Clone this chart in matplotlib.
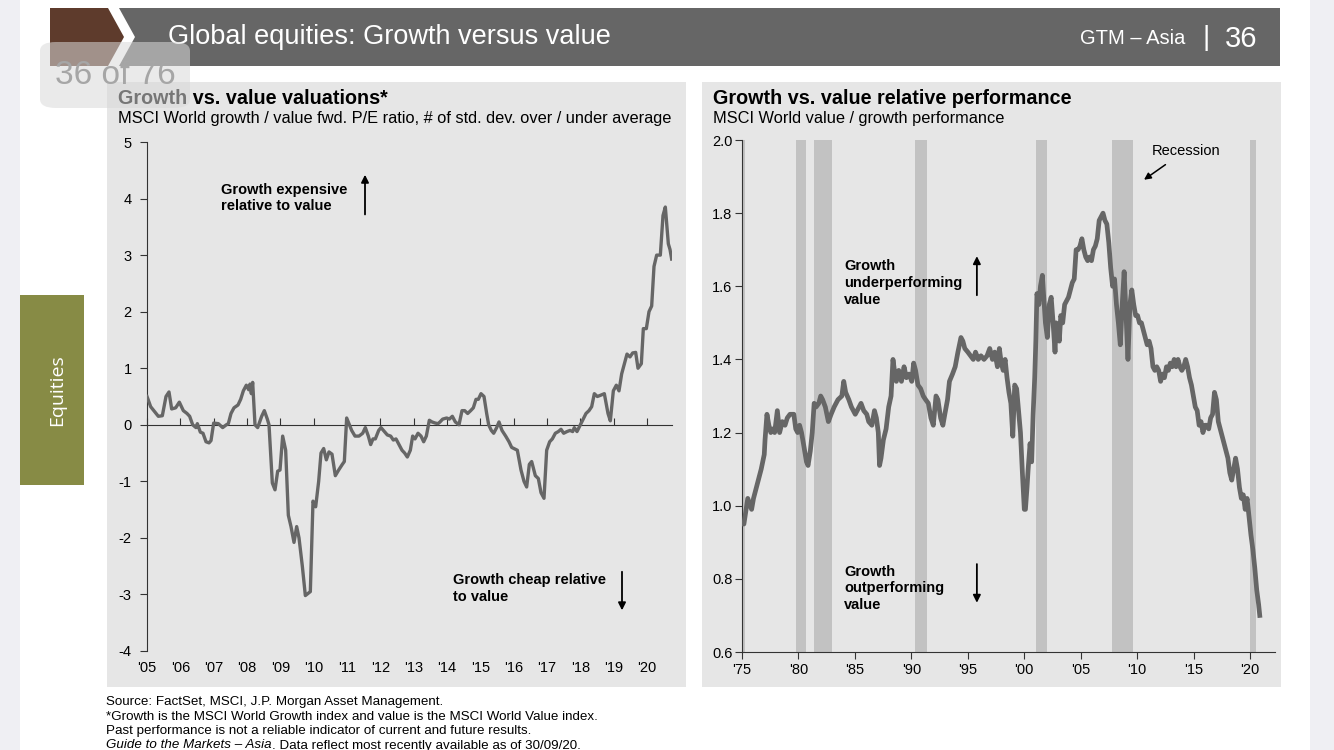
import matplotlib
matplotlib.use("Agg")
import matplotlib.pyplot as plt
from matplotlib.patches import Rectangle, Polygon, FancyBboxPatch

plt.rcParams['font.family'] = ['Liberation Sans', 'DejaVu Sans']

# growth / value fwd P/E, std. dev. from average (left chart)
val_years = [2005.00, 2005.11, 2005.34, 2005.46, 2005.57, 2005.66, 2005.74, 2005.86, 2005.97,
             2006.09, 2006.20, 2006.28, 2006.37, 2006.47, 2006.51, 2006.60, 2006.68, 2006.77, 2006.86, 2006.92,
             2007.00, 2007.14, 2007.27, 2007.38, 2007.44, 2007.52, 2007.61, 2007.73, 2007.81, 2007.89, 2007.98,
             2008.05, 2008.09, 2008.13, 2008.17, 2008.24, 2008.32, 2008.44, 2008.52, 2008.61, 2008.66, 2008.76, 2008.84, 2008.92, 2008.99,
             2009.07, 2009.16, 2009.24, 2009.32, 2009.41, 2009.49, 2009.56, 2009.66, 2009.75, 2009.90, 2009.98,
             2010.06, 2010.15, 2010.22, 2010.30, 2010.38, 2010.46, 2010.55, 2010.65, 2010.75, 2010.86, 2010.92, 2010.99,
             2011.07, 2011.14, 2011.24, 2011.36, 2011.47, 2011.55, 2011.64, 2011.71, 2011.78, 2011.85, 2011.95,
             2012.02, 2012.12, 2012.21, 2012.31, 2012.39, 2012.47, 2012.56, 2012.65, 2012.73, 2012.81, 2012.90, 2012.97,
             2013.04, 2013.13, 2013.22, 2013.30, 2013.38, 2013.47, 2013.55, 2013.65, 2013.73, 2013.79, 2013.87, 2013.99,
             2014.07, 2014.16, 2014.25, 2014.36, 2014.45, 2014.53, 2014.62, 2014.71, 2014.79, 2014.87, 2014.94,
             2015.02, 2015.11, 2015.19, 2015.25, 2015.33, 2015.40, 2015.49, 2015.56, 2015.65, 2015.76, 2015.86, 2015.94,
             2016.11, 2016.22, 2016.31, 2016.39, 2016.47, 2016.54, 2016.65, 2016.74, 2016.82, 2016.91, 2016.99,
             2017.08, 2017.16, 2017.25, 2017.34, 2017.42, 2017.50, 2017.60, 2017.69, 2017.77, 2017.82, 2017.90,
             2018.00, 2018.08, 2018.17, 2018.26, 2018.34, 2018.42, 2018.51, 2018.60, 2018.72, 2018.83, 2018.90, 2018.99,
             2019.08, 2019.16, 2019.24, 2019.31, 2019.40, 2019.49, 2019.57, 2019.66, 2019.73, 2019.83, 2019.89, 2019.98,
             2020.06, 2020.14, 2020.21, 2020.29, 2020.40, 2020.48, 2020.55, 2020.64, 2020.69, 2020.74]
val_sd = [0.50, 0.32, 0.15, 0.16, 0.50, 0.58, 0.28, 0.30, 0.40,
          0.25, 0.20, 0.15, 0.00, -0.05, 0.02, -0.13, -0.15, -0.30, -0.32, -0.28,
          0.03, 0.02, -0.05, 0.00, 0.02, 0.20, 0.30, 0.35, 0.45, 0.60, 0.70,
          0.62, 0.72, 0.55, 0.75, 0.00, -0.05, 0.15, 0.25, 0.10, 0.00, -1.03, -1.15, -0.82, -0.80,
          -0.20, -0.45, -1.60, -1.80, -2.08, -1.80, -2.00, -2.50, -3.02, -2.95, -1.35,
          -1.45, -1.00, -0.50, -0.42, -0.62, -0.48, -0.52, -0.90, -0.80, -0.70, -0.65, 0.12,
          0.00, -0.10, -0.20, -0.20, -0.15, -0.05, -0.20, -0.35, -0.25, -0.25, -0.10,
          -0.05, -0.12, -0.18, -0.20, -0.27, -0.25, -0.35, -0.45, -0.50, -0.57, -0.45, -0.20,
          -0.25, -0.15, -0.20, -0.30, -0.20, 0.08, 0.05, 0.03, 0.02, 0.05, 0.10, 0.12,
          0.10, 0.15, 0.05, 0.00, 0.25, 0.25, 0.20, 0.25, 0.30, 0.45, 0.45,
          0.55, 0.50, 0.20, 0.00, -0.10, -0.15, -0.05, 0.05, -0.10, -0.20, -0.30, -0.40,
          -0.45, -0.80, -1.00, -1.10, -0.70, -0.65, -0.90, -0.95, -1.20, -1.30, -0.45,
          -0.30, -0.25, -0.15, -0.12, -0.08, -0.15, -0.12, -0.10, -0.12, -0.05, -0.12,
          0.00, 0.10, 0.20, 0.25, 0.32, 0.55, 0.50, 0.52, 0.55, 0.20, 0.07, 0.60,
          0.70, 0.60, 0.90, 1.05, 1.25, 1.20, 1.27, 1.28, 1.00, 1.08, 1.70, 1.70,
          2.00, 2.10, 2.80, 3.00, 3.00, 3.70, 3.85, 3.20, 3.10, 2.93]

# value / growth relative performance (right chart)
perf_years = [1975.00, 1975.17, 1975.51, 1975.85, 1976.02, 1976.36, 1976.70, 1976.97, 1977.04, 1977.21,
              1977.38, 1977.55, 1977.72, 1977.89, 1978.13, 1978.33, 1978.57, 1978.81, 1979.01, 1979.25,
              1979.59, 1979.76, 1979.93, 1980.10, 1980.27, 1980.44, 1980.71, 1980.85, 1981.05, 1981.22,
              1981.39, 1981.56, 1981.80, 1981.97, 1982.14, 1982.38, 1982.65, 1982.89, 1983.16, 1983.50,
              1983.84, 1984.01, 1984.18, 1984.46, 1984.69, 1984.86, 1985.03, 1985.20, 1985.54, 1985.78,
              1986.05, 1986.22, 1986.50, 1986.73, 1986.90, 1987.07, 1987.18, 1987.31, 1987.52, 1987.76,
              1987.99, 1988.20, 1988.37, 1988.54, 1988.67, 1988.88, 1989.12, 1989.35, 1989.56, 1989.80,
              1990.03, 1990.20, 1990.37, 1990.58, 1990.82, 1991.05, 1991.26, 1991.50, 1991.73, 1991.94,
              1992.18, 1992.35, 1992.59, 1992.79, 1992.96, 1993.20, 1993.37, 1993.64, 1993.88, 1994.12,
              1994.39, 1994.56, 1994.73, 1995.00, 1995.24, 1995.48, 1995.68, 1995.92, 1996.16, 1996.43,
              1996.70, 1996.94, 1997.18, 1997.38, 1997.62, 1997.79, 1997.96, 1998.13, 1998.30, 1998.47,
              1998.64, 1998.81, 1998.98, 1999.15, 1999.32, 1999.49, 1999.66, 1999.83, 2000.00, 2000.10,
              2000.24, 2000.34, 2000.51, 2000.65, 2000.78, 2000.92, 2001.02, 2001.12, 2001.29, 2001.43,
              2001.60, 2001.70, 2001.87, 2002.04, 2002.21, 2002.38, 2002.55, 2002.72, 2002.82, 2002.96,
              2003.10, 2003.23, 2003.40, 2003.57, 2003.74, 2003.91, 2004.08, 2004.25, 2004.42, 2004.59,
              2004.76, 2004.93, 2005.10, 2005.27, 2005.44, 2005.61, 2005.78, 2005.95, 2006.12, 2006.29,
              2006.46, 2006.63, 2006.80, 2006.97, 2007.14, 2007.31, 2007.48, 2007.65, 2007.82, 2007.99,
              2008.16, 2008.33, 2008.50, 2008.67, 2008.84, 2009.01, 2009.18, 2009.35, 2009.52, 2009.69,
              2009.86, 2010.03, 2010.20, 2010.37, 2010.54, 2010.71, 2010.88, 2011.05, 2011.22, 2011.39,
              2011.56, 2011.73, 2011.90, 2012.07, 2012.24, 2012.41, 2012.59, 2012.76, 2012.93, 2013.10,
              2013.27, 2013.44, 2013.61, 2013.78, 2013.95, 2014.12, 2014.29, 2014.46, 2014.63, 2014.80,
              2014.97, 2015.14, 2015.31, 2015.48, 2015.65, 2015.82, 2015.99, 2016.16, 2016.33, 2016.50,
              2016.67, 2016.84, 2017.01, 2017.18, 2017.35, 2017.52, 2017.69, 2017.86, 2018.03, 2018.20,
              2018.37, 2018.54, 2018.71, 2018.88, 2019.05, 2019.22, 2019.39, 2019.56, 2019.73, 2019.90,
              2020.07, 2020.24, 2020.41, 2020.58, 2020.75, 2020.85]
perf_ratio = [0.95, 0.95, 1.02, 0.99, 1.02, 1.06, 1.10, 1.14, 1.18, 1.25,
              1.22, 1.20, 1.21, 1.20, 1.26, 1.20, 1.23, 1.22, 1.24, 1.25,
              1.25, 1.21, 1.20, 1.22, 1.20, 1.17, 1.12, 1.11, 1.15, 1.20,
              1.28, 1.27, 1.28, 1.30, 1.29, 1.27, 1.23, 1.25, 1.27, 1.29,
              1.30, 1.34, 1.31, 1.29, 1.27, 1.26, 1.25, 1.26, 1.28, 1.26,
              1.25, 1.23, 1.22, 1.26, 1.24, 1.20, 1.11, 1.13, 1.18, 1.21,
              1.27, 1.30, 1.40, 1.36, 1.34, 1.37, 1.34, 1.38, 1.35, 1.36,
              1.34, 1.39, 1.37, 1.33, 1.32, 1.30, 1.29, 1.28, 1.24, 1.22,
              1.30, 1.29, 1.24, 1.22, 1.25, 1.29, 1.34, 1.36, 1.38, 1.42,
              1.46, 1.45, 1.43, 1.42, 1.41, 1.40, 1.42, 1.40, 1.41, 1.40,
              1.41, 1.43, 1.40, 1.42, 1.38, 1.43, 1.39, 1.37, 1.40, 1.35,
              1.31, 1.28, 1.19, 1.33, 1.32, 1.26, 1.20, 1.09, 0.99, 0.99,
              1.05, 1.10, 1.17, 1.12, 1.25, 1.35, 1.45, 1.58, 1.55, 1.60,
              1.63, 1.58, 1.50, 1.46, 1.55, 1.57, 1.50, 1.42, 1.50, 1.48,
              1.45, 1.52, 1.50, 1.55, 1.56, 1.57, 1.59, 1.61, 1.62, 1.70,
              1.70, 1.71, 1.73, 1.70, 1.68, 1.67, 1.68, 1.67, 1.70, 1.71,
              1.73, 1.78, 1.79, 1.80, 1.78, 1.77, 1.72, 1.65, 1.60, 1.62,
              1.55, 1.50, 1.44, 1.55, 1.64, 1.52, 1.40, 1.55, 1.59, 1.55,
              1.52, 1.52, 1.50, 1.50, 1.48, 1.46, 1.44, 1.45, 1.43, 1.38,
              1.37, 1.38, 1.37, 1.34, 1.36, 1.35, 1.38, 1.37, 1.39, 1.38,
              1.40, 1.38, 1.40, 1.38, 1.37, 1.38, 1.40, 1.38, 1.35, 1.33,
              1.30, 1.27, 1.26, 1.22, 1.23, 1.20, 1.22, 1.22, 1.21, 1.24,
              1.25, 1.31, 1.29, 1.23, 1.21, 1.19, 1.17, 1.15, 1.13, 1.09,
              1.07, 1.10, 1.13, 1.10, 1.05, 1.02, 1.03, 0.99, 1.02, 0.97,
              0.92, 0.88, 0.83, 0.77, 0.73, 0.70]

recessions = [(1974.9, 1975.25), (1979.8, 1980.65), (1981.36, 1982.96), (1990.34, 1991.36),
              (2001.0, 2001.97), (2007.8, 2009.6), (2020.0, 2020.5)]

left_years = list(range(2005, 2021))
left_xlabels = ["'05", "'06", "'07", "'08", "'09", "'10", "'11", "'12", "'13", "'14",
                "'15", "'16", "'17", "'18", "'19", "'20"]
left_yticks = [-4, -3, -2, -1, 0, 1, 2, 3, 4, 5]
right_years = list(range(1975, 2021, 5))
right_xlabels = ["'75", "'80", "'85", "'90", "'95", "'00", "'05", "'10", "'15", "'20"]
right_yticks = [0.6, 0.8, 1.0, 1.2, 1.4, 1.6, 1.8, 2.0]

W, H = 1334, 750
PANEL = '#e6e6e6'
LINE = '#666666'


def fx(px):
    return px / W


def fy(py):
    return 1 - py / H


def box(x0, y0, x1, y1, color, z=-5, **kw):
    r = Rectangle((fx(x0), fy(y1)), fx(x1) - fx(x0), (y1 - y0) / H, transform=fig.transFigure,
                  facecolor=color, edgecolor='none', zorder=z, **kw)
    fig.add_artist(r)
    return r


fig = plt.figure(figsize=(W / 100, H / 100), dpi=100)
fig.patch.set_facecolor('#efeff3')
box(20, 0, 1310, H, 'white', z=-10)

# header
fig.add_artist(Polygon([(fx(50), fy(8)), (fx(108), fy(8)), (fx(124), fy(37)), (fx(108), fy(66)), (fx(50), fy(66))],
                       closed=True, transform=fig.transFigure, facecolor='#5e3b2c', edgecolor='none', zorder=-5))
fig.add_artist(Polygon([(fx(119), fy(8)), (fx(1280), fy(8)), (fx(1280), fy(66)), (fx(119), fy(66)), (fx(135), fy(37))],
                       closed=True, transform=fig.transFigure, facecolor='#666666', edgecolor='none', zorder=-5))
fig.text(fx(168), fy(37), "Global equities: Growth versus value", color='white', fontsize=19.5,
         va='center', ha='left')
fig.text(fx(1185), fy(38), "GTM \u2013 Asia", color='white', fontsize=14.5, va='center', ha='right')
fig.text(fx(1206), fy(38), "|", color='white', fontsize=20, va='center', ha='center')
fig.text(fx(1257), fy(39), "36", color='white', fontsize=21, va='center', ha='right')

# side tab
box(20, 295, 84, 485, '#878b45')
fig.text(fx(57), fy(390), "Equities", color='white', fontsize=14, rotation=90, va='center', ha='center',
         family=['Open Sans', 'DejaVu Sans'])

# panels
box(107, 82, 686, 687, PANEL)
box(702, 82, 1281, 687, PANEL)

fig.text(fx(118), fy(98), "Growth vs. value valuations*", fontsize=14.2, fontweight='bold', va='center')
fig.text(fx(118), fy(118), "MSCI World growth / value fwd. P/E ratio, # of std. dev. over / under average",
         fontsize=11.8, va='center')
fig.text(fx(713), fy(98), "Growth vs. value relative performance", fontsize=14.2, fontweight='bold', va='center')
fig.text(fx(713), fy(118), "MSCI World value / growth performance", fontsize=11.8, va='center')

# left chart
ax1 = fig.add_axes([fx(147), fy(651), fx(672) - fx(147), (651 - 142) / H])
ax1.set_facecolor(PANEL)
ax1.plot(val_years, val_sd, color=LINE, lw=2.4, solid_joinstyle='round', zorder=3)
ax1.set_xlim(2005, 2020.75)
ax1.set_ylim(-4, 5)
for s in ['top', 'right']:
    ax1.spines[s].set_visible(False)
ax1.spines['bottom'].set_position(('data', 0))
ax1.spines['bottom'].set_color('#333333')
ax1.spines['left'].set_color('#333333')
ax1.set_xticks(left_years)
ax1.tick_params(axis='x', direction='in', length=5, color='#333333', labelbottom=False)
ax1.set_yticks(left_yticks)
ax1.set_yticklabels([str(v) for v in left_yticks])
ax1.tick_params(axis='y', direction='out', length=5, color='#333333', labelsize=10.5, pad=6)
for yr, lab in zip(left_years, left_xlabels):
    ax1.text(yr, -0.034, lab, transform=ax1.get_xaxis_transform(), ha='center', va='center', fontsize=10.5)

ax1.text(2007.22, 4.28, "Growth expensive\nrelative to value", fontsize=10.5, fontweight='bold',
         va='top', ha='left', linespacing=1.25)
ax1.annotate('', xy=(2011.54, 4.47), xytext=(2011.54, 3.67),
             arrowprops=dict(arrowstyle='-|>', color='black', lw=1.3, mutation_scale=11))
ax1.text(2014.18, -2.62, "Growth cheap relative\nto value", fontsize=10.5, fontweight='bold',
         va='top', ha='left', linespacing=1.25)
ax1.annotate('', xy=(2019.25, -3.33), xytext=(2019.25, -2.55),
             arrowprops=dict(arrowstyle='-|>', color='black', lw=1.3, mutation_scale=11))

# right chart
ax2 = fig.add_axes([fx(742), fy(652), fx(1275) - fx(742), (652 - 140) / H])
ax2.set_facecolor(PANEL)
for a, b in recessions:
    ax2.axvspan(a, b, color='#c2c2c2', lw=0, zorder=1)
ax2.plot(perf_years, perf_ratio, color=LINE, lw=3.4, solid_joinstyle='round', zorder=3)
ax2.set_xlim(1975, 2022.2)
ax2.set_ylim(0.6, 2.0)
for s in ['top', 'right']:
    ax2.spines[s].set_visible(False)
ax2.spines['bottom'].set_color('#333333')
ax2.spines['left'].set_color('#333333')
ax2.set_xticks(right_years)
ax2.set_xticklabels(right_xlabels)
ax2.set_yticks(right_yticks)
ax2.set_yticklabels(['%.1f' % v for v in right_yticks])
ax2.tick_params(axis='both', direction='out', length=5, color='#333333', labelsize=10.5)
ax2.tick_params(axis='x', pad=3)
ax2.tick_params(axis='y', pad=2)

ax2.text(1984.03, 1.674, "Growth\nunderperforming\nvalue", fontsize=10.5, fontweight='bold',
         va='top', ha='left', linespacing=1.25)
ax2.annotate('', xy=(1995.8, 1.69), xytext=(1995.8, 1.568),
             arrowprops=dict(arrowstyle='-|>', color='black', lw=1.3, mutation_scale=11))
ax2.text(1984.03, 0.839, "Growth\noutperforming\nvalue", fontsize=10.5, fontweight='bold',
         va='top', ha='left', linespacing=1.25)
ax2.annotate('', xy=(1995.8, 0.727), xytext=(1995.8, 0.848),
             arrowprops=dict(arrowstyle='-|>', color='black', lw=1.3, mutation_scale=11))
ax2.text(2014.3, 1.97, "Recession", fontsize=10.5, ha='center', va='center')
ax2.annotate('', xy=(2010.4, 1.887), xytext=(2012.7, 1.937),
             arrowprops=dict(arrowstyle='-|>', color='black', lw=1.1, mutation_scale=10))

# footnotes
notes = ["Source: FactSet, MSCI, J.P. Morgan Asset Management.",
         "*Growth is the MSCI World Growth index and value is the MSCI World Value index.",
         "Past performance is not a reliable indicator of current and future results."]
for i, n in enumerate(notes):
    fig.text(fx(106), fy(702 + 14.5 * i), n, fontsize=9.6, va='center')
t = fig.text(fx(106), fy(745.5), "Guide to the Markets \u2013 Asia", fontsize=9.6, va='center', style='italic')
bb = t.get_window_extent(renderer=fig.canvas.get_renderer())
fig.text(bb.x1 / W, fy(745.5), ". Data reflect most recently available as of 30/09/20.", fontsize=9.6, va='center')

# page counter overlay
fig.add_artist(FancyBboxPatch((fx(40), fy(108)), fx(190) - fx(40), (108 - 42) / H,
                              boxstyle='round,pad=0,rounding_size=0.012', transform=fig.transFigure,
                              facecolor='#d9d9d9', edgecolor='none', alpha=0.55, zorder=20))
fig.text(fx(115), fy(75), "36 of 76", color='#a6a6a6', fontsize=24, ha='center', va='center', zorder=21)

fig.savefig('out.png', dpi=100)
